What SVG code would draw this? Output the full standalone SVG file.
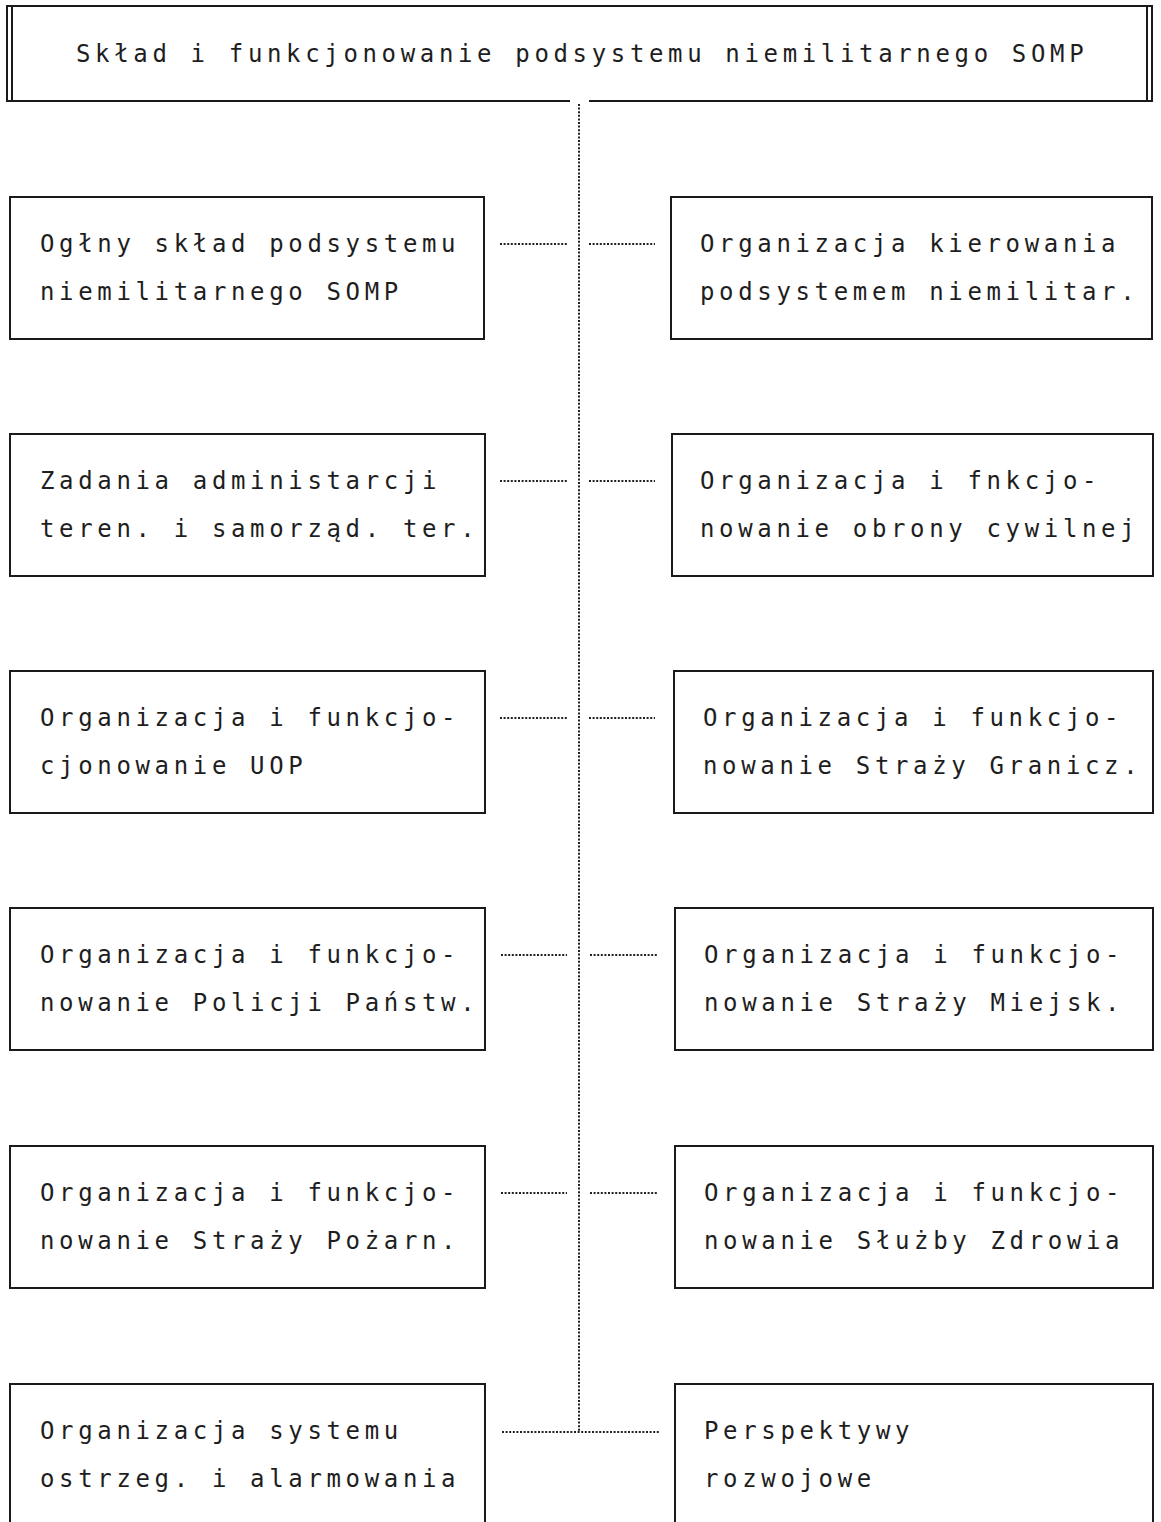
<svg xmlns="http://www.w3.org/2000/svg" width="1161" height="1522" viewBox="0 0 1161 1522">
<style>
.box{fill:none;stroke:#1a1a1a;stroke-width:2}
.t{font-family:"DejaVu Sans Mono","Liberation Mono",monospace;font-size:24px;letter-spacing:4.65px;fill:#1e1e1e}
.dot{fill:none;stroke:#222;stroke-width:2;stroke-dasharray:2 1.6}
</style>
<rect width="1161" height="1522" fill="#fff"/>
<g id="title">
<rect x="7" y="6" width="1145" height="95" class="box" stroke-width="2.5"/>
<line x1="12" y1="6" x2="12" y2="101" class="box"/>
<line x1="1147" y1="6" x2="1147" y2="101" class="box"/>
<line x1="570" y1="101" x2="589" y2="101" stroke="#fff" stroke-width="4"/>
<text class="t" x="76" y="62">Skład i funkcjonowanie podsystemu niemilitarnego SOMP</text>
</g>
<g id="connectors">
<line x1="579" y1="104" x2="579" y2="1432" class="dot"/>
<line x1="500" y1="244" x2="567" y2="244" class="dot"/>
<line x1="589" y1="244" x2="655" y2="244" class="dot"/>
<line x1="500" y1="481" x2="567" y2="481" class="dot"/>
<line x1="589" y1="481" x2="655" y2="481" class="dot"/>
<line x1="500" y1="718" x2="567" y2="718" class="dot"/>
<line x1="589" y1="718" x2="655" y2="718" class="dot"/>
<line x1="501" y1="955" x2="567" y2="955" class="dot"/>
<line x1="590" y1="955" x2="657" y2="955" class="dot"/>
<line x1="501" y1="1193" x2="567" y2="1193" class="dot"/>
<line x1="590" y1="1193" x2="657" y2="1193" class="dot"/>
<line x1="502" y1="1432" x2="659" y2="1432" class="dot"/>
</g>
<g id="n1l"><rect x="10" y="197" width="474" height="142" class="box"/>
<text class="t" x="40" y="252">Ogłny skład podsystemu</text><text class="t" x="40" y="300">niemilitarnego SOMP</text></g>
<g id="n1r"><rect x="671" y="197" width="481" height="142" class="box"/>
<text class="t" x="700" y="252">Organizacja kierowania</text><text class="t" x="700" y="300">podsystemem niemilitar.</text></g>
<g id="n2l"><rect x="10" y="434" width="475" height="142" class="box"/>
<text class="t" x="40" y="489">Zadania administarcji</text><text class="t" x="40" y="537">teren. i samorząd. ter.</text></g>
<g id="n2r"><rect x="672" y="434" width="481" height="142" class="box"/>
<text class="t" x="700" y="489">Organizacja i fnkcjo-</text><text class="t" x="700" y="537">nowanie obrony cywilnej</text></g>
<g id="n3l"><rect x="10" y="671" width="475" height="142" class="box"/>
<text class="t" x="40" y="726">Organizacja i funkcjo-</text><text class="t" x="40" y="774">cjonowanie UOP</text></g>
<g id="n3r"><rect x="674" y="671" width="479" height="142" class="box"/>
<text class="t" x="703" y="726">Organizacja i funkcjo-</text><text class="t" x="703" y="774">nowanie Straży Granicz.</text></g>
<g id="n4l"><rect x="10" y="908" width="475" height="142" class="box"/>
<text class="t" x="40" y="963">Organizacja i funkcjo-</text><text class="t" x="40" y="1011">nowanie Policji Państw.</text></g>
<g id="n4r"><rect x="675" y="908" width="478" height="142" class="box"/>
<text class="t" x="704" y="963">Organizacja i funkcjo-</text><text class="t" x="704" y="1011">nowanie Straży Miejsk.</text></g>
<g id="n5l"><rect x="10" y="1146" width="475" height="142" class="box"/>
<text class="t" x="40" y="1201">Organizacja i funkcjo-</text><text class="t" x="40" y="1249">nowanie Straży Pożarn.</text></g>
<g id="n5r"><rect x="675" y="1146" width="478" height="142" class="box"/>
<text class="t" x="704" y="1201">Organizacja i funkcjo-</text><text class="t" x="704" y="1249">nowanie Służby Zdrowia</text></g>
<g id="n6l"><rect x="10" y="1384" width="475" height="150" class="box"/>
<text class="t" x="40" y="1439">Organizacja systemu</text><text class="t" x="40" y="1487">ostrzeg. i alarmowania</text></g>
<g id="n6r"><rect x="675" y="1384" width="478" height="150" class="box"/>
<text class="t" x="704" y="1439">Perspektywy</text><text class="t" x="704" y="1487">rozwojowe</text></g>
</svg>
